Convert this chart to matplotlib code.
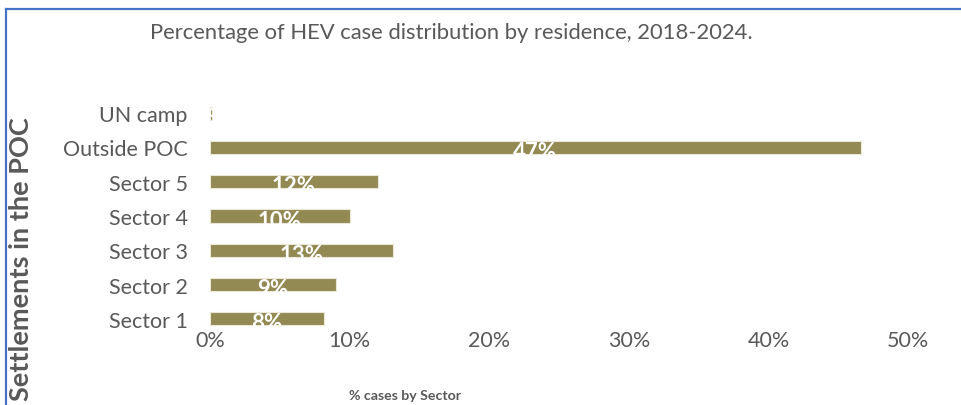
import matplotlib
matplotlib.use("Agg")
import matplotlib.pyplot as plt
from matplotlib.lines import Line2D

# Data
categories = ["Sector 1", "Sector 2", "Sector 3", "Sector 4", "Sector 5", "Outside POC", "UN camp"]
values = [8.2, 9.0, 13.1, 10.0, 12.0, 46.6, 0.15]
labels = ["8%", "9%", "13%", "10%", "12%", "47%", "0%"]
xticks = [0, 10, 20, 30, 40, 50]

plt.rcParams["font.family"] = ["Lato", "DejaVu Sans"]
text_grey = "#595959"
bar_color = "#938953"

fig = plt.figure(figsize=(9.61, 4.06), dpi=100)
ax = fig.add_axes([210 / 961, (406 - 337) / 406, 698 / 961, 240 / 406])

ypos = list(range(len(categories)))
ax.barh(ypos, values, height=0.38, color=bar_color, edgecolor="#ebe7d8", linewidth=0.8)

# white data labels, half of them fall outside the bar like in the original
for y, v, lab in zip(ypos, values, labels):
    ax.text(v / 2, y - 0.31, lab, color="white", fontsize=16, fontweight="bold",
            ha="center", va="baseline")

ax.set_xlim(0, 50)
ax.set_ylim(-0.5, len(categories) - 0.5)
ax.set_xticks(xticks)
ax.set_xticklabels([f"{t}%" for t in xticks])
ax.set_yticks(ypos)
ax.set_yticklabels(categories)
ax.tick_params(axis="x", length=0, pad=-4, labelsize=15.5, labelcolor=text_grey)
ax.tick_params(axis="y", length=0, pad=16, labelsize=15.5, labelcolor=text_grey)
for s in ax.spines.values():
    s.set_visible(False)

fig.text(451 / 961, 1 - 33 / 406, "Percentage of HEV case distribution by residence, 2018-2024.",
         ha="center", va="center", fontsize=15.8, color=text_grey)
fig.text(405 / 961, 1 - 396 / 406, "% cases by Sector", ha="center", va="center",
         fontsize=10.2, fontweight="bold", color=text_grey)
fig.text(21 / 961, 1 - 259 / 406, "Settlements in the POC", ha="center", va="center",
         rotation=90, fontsize=19.5, fontweight="bold", color=text_grey)

# blue frame on top and left
fig.add_artist(Line2D([6 / 961, 1], [1 - 9.5 / 406, 1 - 9.5 / 406], color="#4472C4", lw=1.6))
fig.add_artist(Line2D([6 / 961, 6 / 961], [0, 1 - 9.5 / 406], color="#4472C4", lw=1.6))

fig.savefig("out.png", dpi=100)
